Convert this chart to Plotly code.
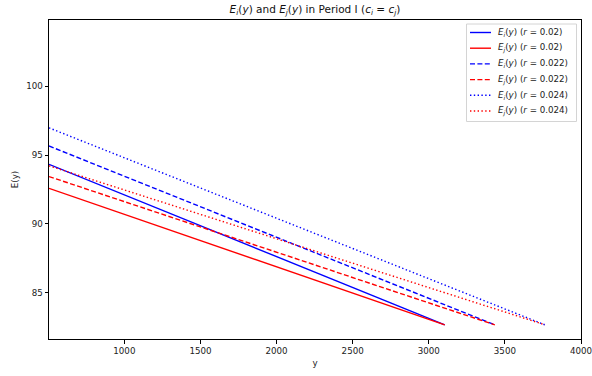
import plotly.graph_objects as go

# Line endpoints (y from x_start to x_end)
x_start = [505, 505, 505, 505, 505, 505]
x_end = [3105, 3105, 3434, 3434, 3763, 3763]
e_start = [94.33, 92.58, 95.66, 93.44, 96.98, 94.22]
e_end = [82.66, 82.66, 82.66, 82.66, 82.66, 82.66]
names = [
    "<i>E<sub>i</sub></i>(<i>y</i>) (<i>r</i> = 0.02)",
    "<i>E<sub>j</sub></i>(<i>y</i>) (<i>r</i> = 0.02)",
    "<i>E<sub>i</sub></i>(<i>y</i>) (<i>r</i> = 0.022)",
    "<i>E<sub>j</sub></i>(<i>y</i>) (<i>r</i> = 0.022)",
    "<i>E<sub>i</sub></i>(<i>y</i>) (<i>r</i> = 0.024)",
    "<i>E<sub>j</sub></i>(<i>y</i>) (<i>r</i> = 0.024)",
]
colors = ["#0000ff", "#ff0000", "#0000ff", "#ff0000", "#0000ff", "#ff0000"]
dashes = ["solid", "solid", "5px,2.4px", "5px,2.4px", "1.4px,2.4px", "1.4px,2.4px"]

x_ticks = [1000, 1500, 2000, 2500, 3000, 3500, 4000]
y_ticks = [85, 90, 95, 100]

FONT = "DejaVu Sans"
W, H = 592, 376
L, R, T, B = 49, 581, 20, 339  # plot area in pixels


def px(xp):
    return (xp - L) / (R - L)


def py(yp):
    return (B - yp) / (B - T)


fig = go.Figure()
for i in range(len(names)):
    fig.add_trace(go.Scatter(
        x=[x_start[i], x_end[i]], y=[e_start[i], e_end[i]],
        mode="lines", name=names[i], showlegend=False,
        line=dict(color=colors[i], dash=dashes[i], width=1.4),
    ))

axis_common = dict(
    showline=True, mirror=True, linecolor="black", linewidth=1,
    ticks="outside", ticklen=3.5, tickwidth=0.8, tickcolor="black",
    showgrid=False, zeroline=False,
    tickfont=dict(family=FONT, size=8.7, color="#222"),
)

# Manual legend (matplotlib-style compact box)
shapes = [dict(type="rect", xref="paper", yref="paper",
               x0=px(466.5), x1=px(576.5), y0=py(121.5), y1=py(24),
               line=dict(color="#d4d4d4", width=1),
               fillcolor="rgba(255,255,255,0.85)", layer="above")]
annotations = []
row_y = [32.5, 48.2, 63.9, 79.6, 95.3, 111.0]
for i in range(len(names)):
    shapes.append(dict(type="line", xref="paper", yref="paper",
                       x0=px(470), x1=px(491), y0=py(row_y[i]), y1=py(row_y[i]),
                       line=dict(color=colors[i], dash=dashes[i], width=1.4),
                       layer="above"))
    annotations.append(dict(xref="paper", yref="paper", x=px(496), y=py(row_y[i]),
                            xanchor="left", yanchor="middle", showarrow=False,
                            text=names[i], align="left",
                            font=dict(family=FONT, size=8.7, color="#222")))

# 4000 tick label (clipped at the page edge as in the reference)
annotations.append(dict(xref="x", yref="paper", x=4000, y=0, yanchor="top",
                        xanchor="center", yshift=-5, showarrow=False,
                        text="4000", font=dict(family=FONT, size=8.7, color="#222")))

fig.update_layout(
    width=W, height=H,
    margin=dict(l=L, r=W - R, t=T, b=H - B),
    plot_bgcolor="white", paper_bgcolor="white",
    font=dict(family=FONT, size=8.7, color="#222"),
    showlegend=False,
    title=dict(
        text="<i>E<sub>i</sub></i>(<i>y</i>) and <i>E<sub>j</sub></i>(<i>y</i>) in Period I (<i>c<sub>i</sub></i> = <i>c<sub>j</sub></i>)",
        x=(L + R) / 2 / W, xanchor="center", y=1 - 9 / H, yanchor="middle",
        font=dict(family=FONT, size=10.5, color="#111"),
    ),
    xaxis=dict(range=[505, 4000], tickvals=x_ticks,
               title=dict(text="y", font=dict(family=FONT, size=8.7), standoff=4),
               **axis_common),
    yaxis=dict(range=[81.63, 104.82], tickvals=y_ticks,
               title=dict(text="E(y)", font=dict(family=FONT, size=8.7), standoff=6),
               **axis_common),
    shapes=shapes,
    annotations=annotations,
)

fig.write_html("out.html")
